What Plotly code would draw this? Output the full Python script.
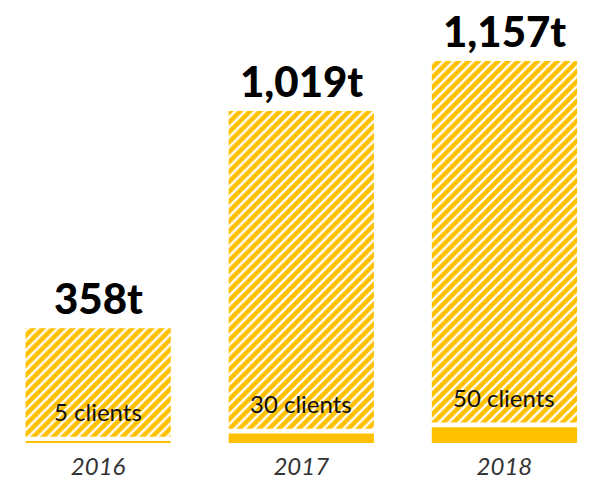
import plotly.graph_objects as go

years = ["2016", "2017", "2018"]
clients = [5, 30, 50]
tonnes = [358, 1019, 1157]
tonne_labels = ["358t", "1,019t", "1,157t"]
client_labels = ["5 clients", "30 clients", "50 clients"]

GOLD = "#FFC000"
GAP = 15  # visual white gap between segments (axis units)
FONT = "Lato"

tops = [c + t for c, t in zip(clients, tonnes)]

fig = go.Figure()
fig.add_trace(go.Bar(
    x=years, y=clients, marker=dict(color=GOLD, line=dict(width=0)),
    width=0.715, hoverinfo="skip"))
fig.add_trace(go.Bar(
    x=years, y=[t - GAP for t in tonnes], base=[c + GAP for c in clients],
    width=0.715,
    marker=dict(color=GOLD, line=dict(width=0),
                pattern=dict(shape="/", bgcolor=GOLD, fgcolor="white",
                             size=7, solidity=0.33, fillmode="replace")),
    hoverinfo="skip"))

for i, (top, lab) in enumerate(zip(tops, tonne_labels)):
    fig.add_annotation(x=i, y=top, xref="x", yref="y", text=lab, showarrow=False,
                       yanchor="middle", yshift=30,
                       font=dict(family=FONT, size=42, color="black", weight=900))
for i, (c, lab) in enumerate(zip(clients, client_labels)):
    fig.add_annotation(x=i, y=c + GAP, xref="x", yref="y", text=lab, showarrow=False,
                       yanchor="middle", yshift=25,
                       font=dict(family=FONT, size=24, color="#111111"))

fig.update_layout(
    width=604, height=494, barmode="overlay",
    margin=dict(l=0, r=0, t=0, b=51),
    paper_bgcolor="white", plot_bgcolor="white", showlegend=False,
    hovermode=False,
    xaxis=dict(type="category", range=[-0.483, 2.49], showgrid=False,
               zeroline=False, showline=False, ticks="", ticklabelstandoff=7,
               tickfont=dict(family=FONT, size=24, color="#333333", style="italic")),
    yaxis=dict(range=[0, 1400], visible=False, showgrid=False, zeroline=False),
)
fig.write_html("out.html", config={"displayModeBar": False},
               post_script="document.body.style.margin='0';")
